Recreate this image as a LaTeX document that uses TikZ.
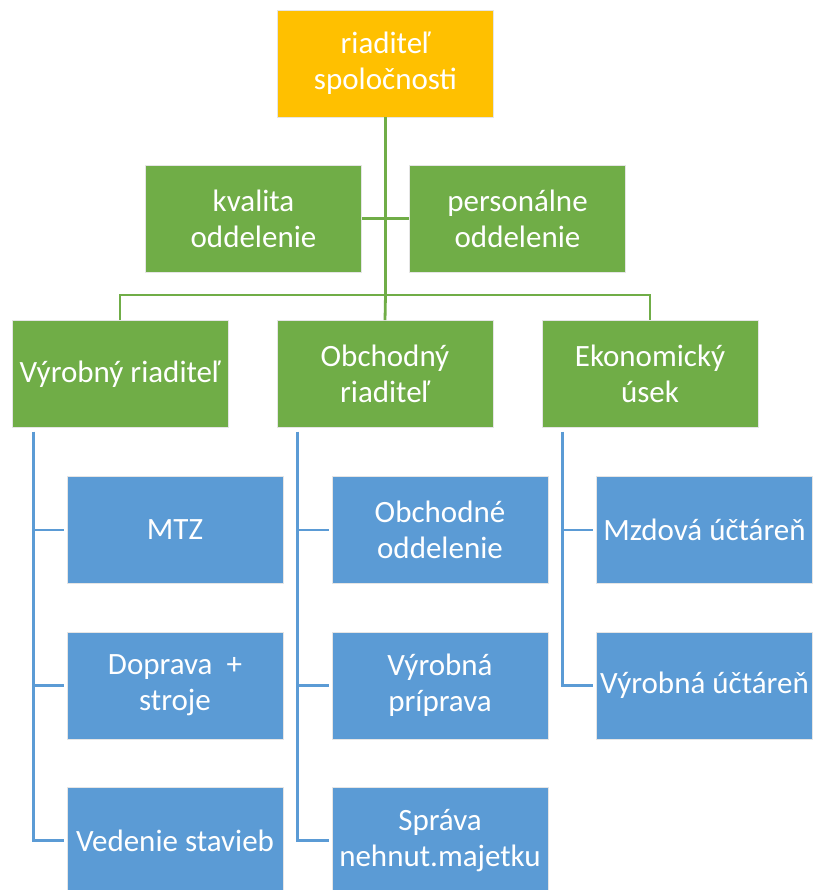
\documentclass[tikz,border=0pt]{standalone}
\usepackage{fontspec}
\setmainfont{Carlito}
\definecolor{org}{HTML}{FFC000}
\definecolor{grn}{HTML}{70AD47}
\definecolor{blu}{HTML}{5B9BD5}
\begin{document}
\begin{tikzpicture}[x=1pt,y=-1pt,
  box/.style={draw=white!90!black, line width=0.6pt, minimum width=216pt, minimum height=107pt,
    inner sep=0pt, align=center, text=white, font=\fontsize{31}{36}\selectfont},
  obox/.style={box, fill=org},
  gbox/.style={box, fill=grn},
  bbox/.style={box, fill=blu},
  gl/.style={draw=grn, line width=2.8pt},
  bl/.style={draw=blu, line width=2.8pt}]
\useasboundingbox (0,0) rectangle (816,890);
\node[obox] (top) at (385.5,63.5) {riaditeľ\\spoločnosti};
\node[gbox] (kval) at (253.5,218.5) {kvalita\\oddelenie};
\node[gbox] (pers) at (517.5,218.5) {personálne\\oddelenie};
\node[gbox] (vyr) at (120,374) {Výrobný riaditeľ};
\node[gbox] (obch) at (385,374) {Obchodný\\riaditeľ};
\node[gbox] (eko) at (650,374) {Ekonomický\\úsek};
\node[bbox] (mtz) at (175,530) {MTZ};
\node[bbox] (dop) at (175,685.5) {Doprava\ \ +\\stroje};
\node[bbox] (ved) at (175,840.5) {Vedenie stavieb};
\node[bbox] (ood) at (440,530) {Obchodné\\oddelenie};
\node[bbox] (vpr) at (440,685.5) {Výrobná\\príprava};
\node[bbox] (spr) at (440,840.5) {Správa\\nehnut.majetku};
\node[bbox] (mzd) at (704.5,530) {Mzdová účtáreň};
\node[bbox] (vuc) at (704.5,685.5) {Výrobná účtáreň};
\coordinate (j) at (385.5,295);
\draw[gl] (top.south) -- (j);
\draw[gl] (kval.east) -- (pers.west);
\draw[gl] (vyr.north) |- (j) -| (eko.north);
\draw[gl] (j) -- (obch.north);
\coordinate (v1) at ([xshift=22pt,yshift=-4pt]vyr.south west);
\coordinate (v2) at ([xshift=21pt,yshift=-4pt]obch.south west);
\coordinate (v3) at ([xshift=21pt,yshift=-4pt]eko.south west);
\draw[bl] (v1) |- ([xshift=-3pt]mtz.west);
\draw[bl] (v1) |- ([xshift=-3pt]dop.west);
\draw[bl] (v1) |- ([xshift=-3pt]ved.west);
\draw[bl] (v2) |- ([xshift=-3pt]ood.west);
\draw[bl] (v2) |- ([xshift=-3pt]vpr.west);
\draw[bl] (v2) |- ([xshift=-3pt]spr.west);
\draw[bl] (v3) |- ([xshift=-3pt]mzd.west);
\draw[bl] (v3) |- ([xshift=-3pt]vuc.west);
\end{tikzpicture}
\end{document}
